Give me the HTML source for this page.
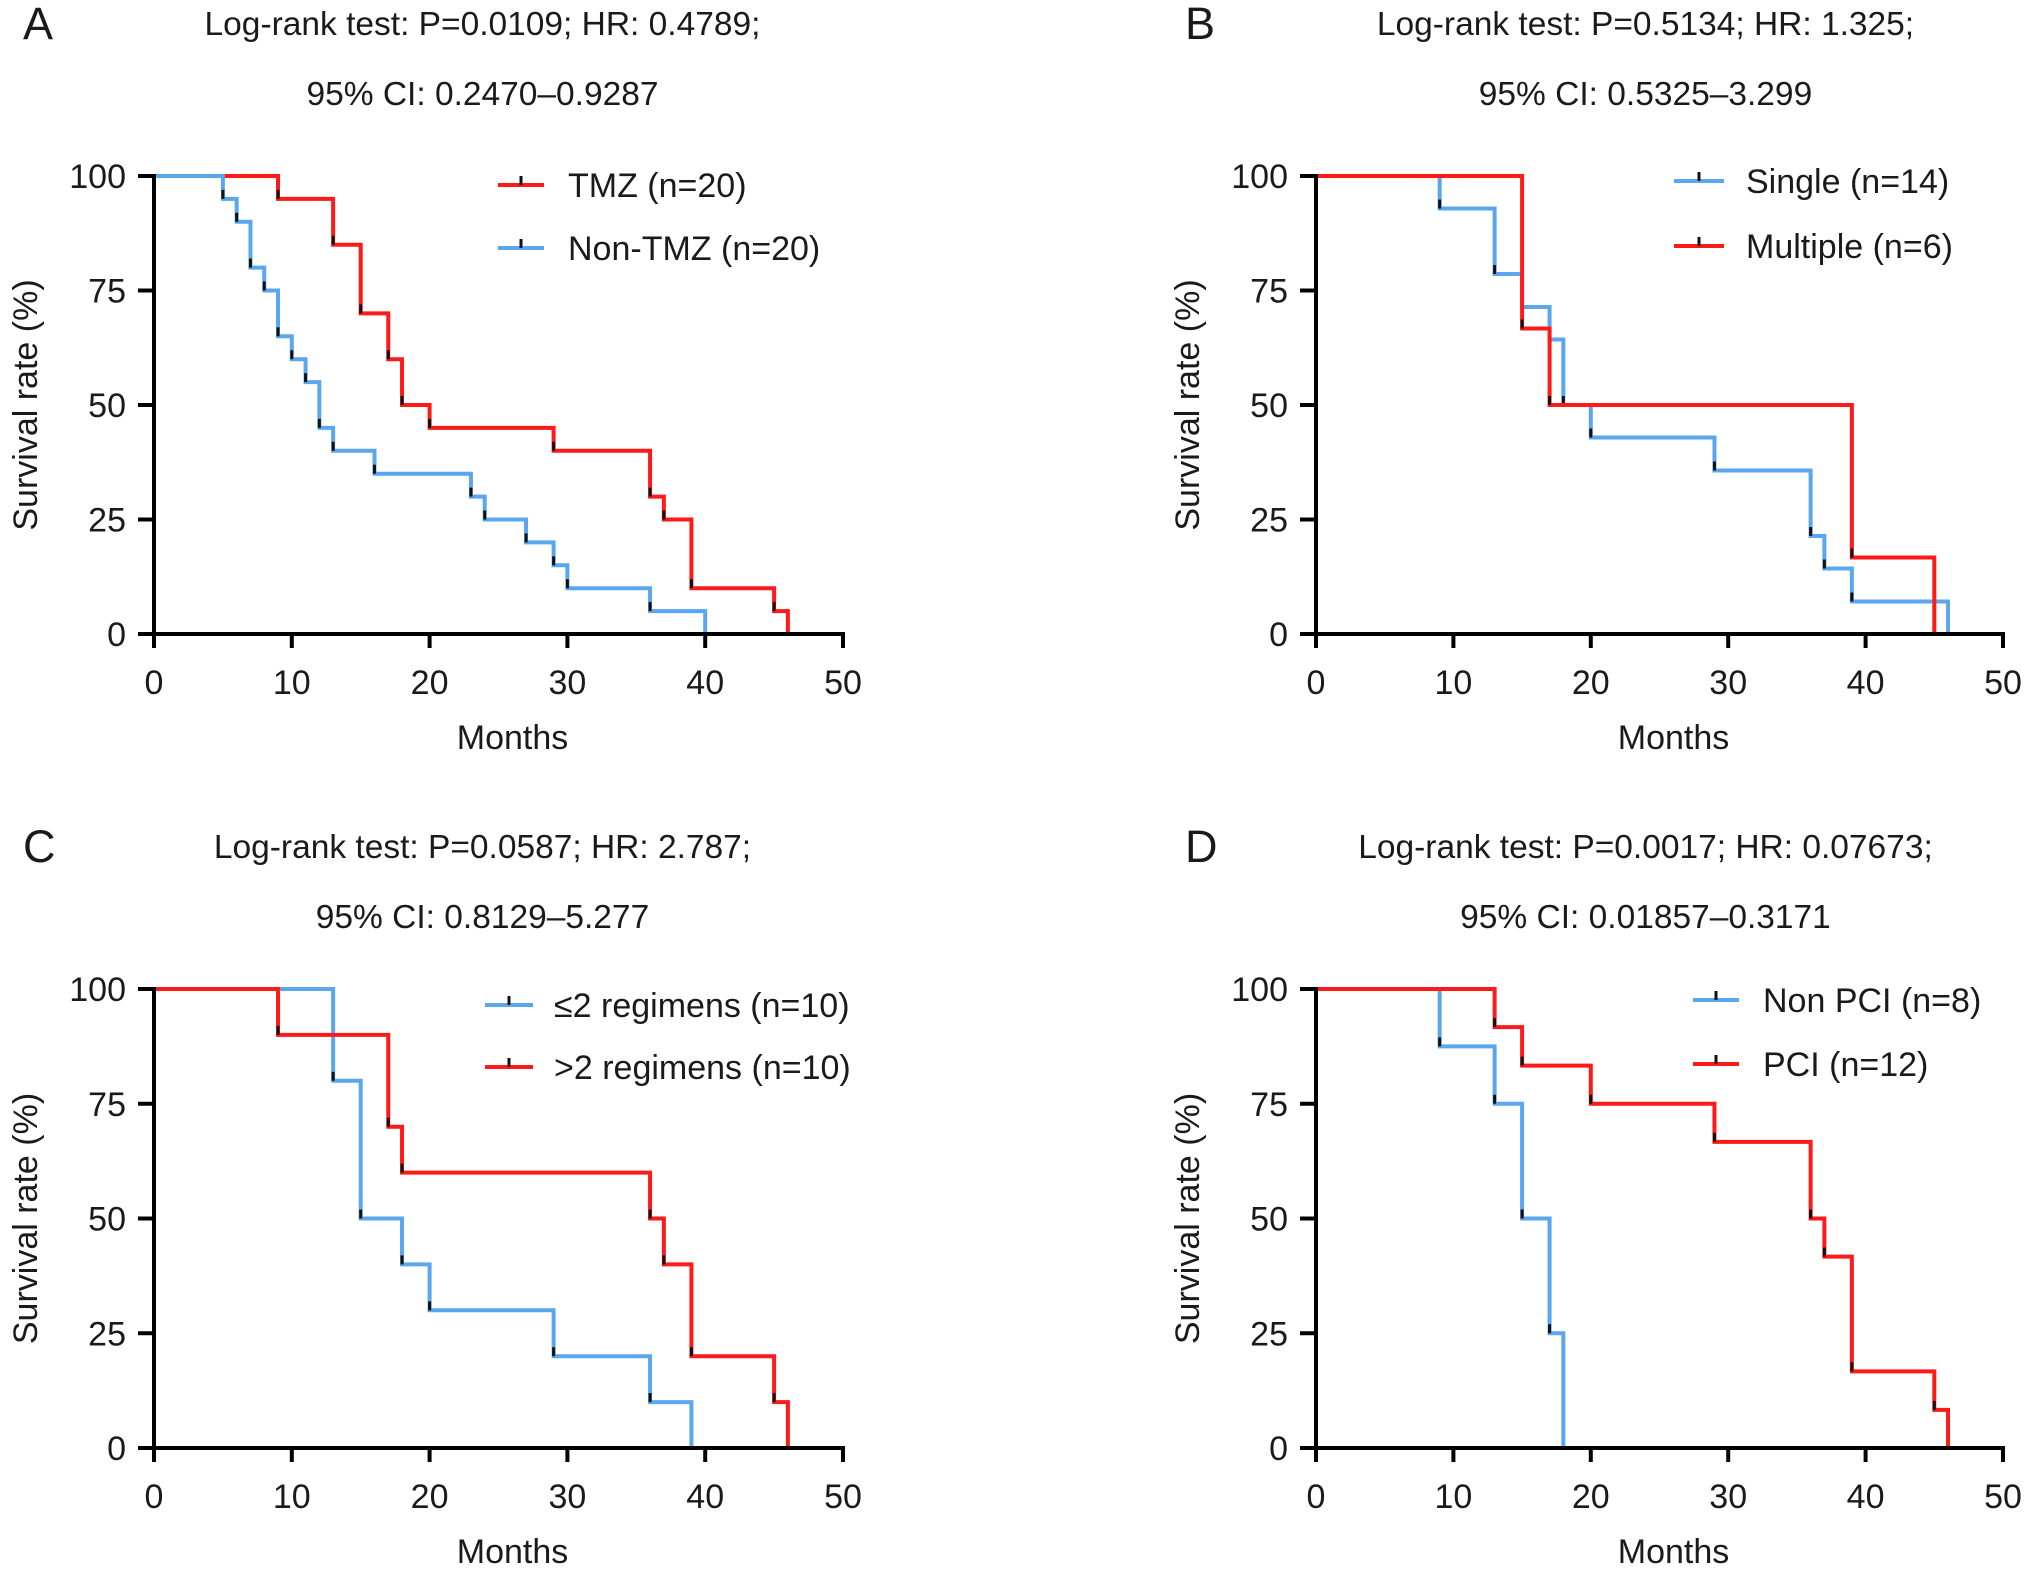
<!DOCTYPE html>
<html><head><meta charset="utf-8"><style>
html,body{margin:0;padding:0;background:#fff;}
svg{display:block;font-family:"Liberation Sans",Arial,sans-serif;}
</style></head><body>
<svg id="fig" width="2032" height="1577" viewBox="0 0 2032 1577" xmlns="http://www.w3.org/2000/svg"></svg>
<script>
// Panel A
const aTmzT=[0,9,13,15,17,18,20,29,36,37,39,45,46];
const aTmzS=[100,95,85,70,60,50,45,40,30,25,10,5,0];
const aNonT=[0,5,6,7,8,9,10,11,12,13,16,23,24,27,29,30,36,40];
const aNonS=[100,95,90,80,75,65,60,55,45,40,35,30,25,20,15,10,5,0];
// Panel B
const bSingleT=[0,9,13,15,17,18,20,29,36,37,39,46];
const bSingleS=[100,92.9,78.6,71.4,64.3,50,42.9,35.7,21.4,14.3,7.1,0];
const bMultT=[0,15,17,39,45];
const bMultS=[100,66.7,50,16.7,0];
// Panel C
const cLowT=[0,13,15,18,20,29,36,39];
const cLowS=[100,80,50,40,30,20,10,0];
const cHighT=[0,9,17,18,36,37,39,45,46];
const cHighS=[100,90,70,60,50,40,20,10,0];
// Panel D
const dNonT=[0,9,13,15,17,18];
const dNonS=[100,87.5,75,50,25,0];
const dPciT=[0,13,15,20,29,36,37,39,45,46];
const dPciS=[100,91.7,83.3,75,66.7,50,41.7,16.7,8.3,0];
const xTicks=[0,10,20,30,40,50];
const yTicks=[0,25,50,75,100];

const RED="#ff1a1a", BLUE="#5aa6ef", TXT="#1a1a1a";
const NS="http://www.w3.org/2000/svg";
const svg=document.getElementById('fig');
function el(tag,attrs,parent){const e=document.createElementNS(NS,tag);for(const k in attrs)e.setAttribute(k,attrs[k]);(parent||svg).appendChild(e);return e;}

const panels=[
 {id:'a',letter:'A',x0:154,x1:843,y0:634,y1:176,t1:'Log-rank test: P=0.0109; HR: 0.4789;',t2:'95% CI: 0.2470–0.9287',ty:23,
  series:[{n:'tmz',T:aTmzT,S:aTmzS,c:RED,lab:'TMZ (n=20)'},{n:'non-tmz',T:aNonT,S:aNonS,c:BLUE,lab:'Non-TMZ (n=20)'}],lx:498,lx2:544,tx:568,ly:[185,248]},
 {id:'b',letter:'B',x0:1316,x1:2003,y0:634,y1:176,t1:'Log-rank test: P=0.5134; HR: 1.325;',t2:'95% CI: 0.5325–3.299',ty:23,
  series:[{n:'single',T:bSingleT,S:bSingleS,c:BLUE,lab:'Single (n=14)'},{n:'multiple',T:bMultT,S:bMultS,c:RED,lab:'Multiple (n=6)'}],lx:1674,lx2:1724,tx:1746,ly:[181,246]},
 {id:'c',letter:'C',x0:154,x1:843,y0:1448,y1:989,t1:'Log-rank test: P=0.0587; HR: 2.787;',t2:'95% CI: 0.8129–5.277',ty:846,
  series:[{n:'le2-regimens',T:cLowT,S:cLowS,c:BLUE,lab:'≤2 regimens (n=10)'},{n:'gt2-regimens',T:cHighT,S:cHighS,c:RED,lab:'>2 regimens (n=10)'}],lx:485,lx2:533,tx:554,ly:[1005,1067]},
 {id:'d',letter:'D',x0:1316,x1:2003,y0:1448,y1:989,t1:'Log-rank test: P=0.0017; HR: 0.07673;',t2:'95% CI: 0.01857–0.3171',ty:846,
  series:[{n:'non-pci',T:dNonT,S:dNonS,c:BLUE,lab:'Non PCI (n=8)'},{n:'pci',T:dPciT,S:dPciS,c:RED,lab:'PCI (n=12)'}],lx:1693,lx2:1739,tx:1763,ly:[1000,1064]}
];

panels.forEach(p=>{
  const g=el('g',{});
  
  
  const xs=v=>p.x0+(p.x1-p.x0)*v/50;
  const ys=v=>p.y0+(p.y1-p.y0)*v/100;
  const cx=(p.x0+p.x1)/2+(p.id==='a'||p.id==='c'?-16:-14);
  const L=el('text',{x:p.x0-131,y:p.ty+16,'font-size':45,fill:TXT},g);L.textContent=p.letter;
  
  const T1=el('text',{x:cx,y:p.ty+12,'font-size':33.5,'text-anchor':'middle',fill:TXT},g);T1.textContent=p.t1;
  
  const T2=el('text',{x:cx,y:p.ty+82,'font-size':33.5,'text-anchor':'middle',fill:TXT},g);T2.textContent=p.t2;
  
  p.series.forEach((s,si)=>{
    let d='M'+xs(s.T[0])+' '+ys(s.S[0]);
    for(let i=1;i<s.T.length;i++){d+=' H'+xs(s.T[i])+' V'+ys(s.S[i]);}
    const path=el('path',{d:d,fill:'none',stroke:s.c,'stroke-width':4,'stroke-linejoin':'miter'},g);
    
    for(let i=1;i<s.T.length-1;i++){
      const tk=el('line',{x1:xs(s.T[i]),x2:xs(s.T[i]),y1:ys(s.S[i]),y2:ys(s.S[i])-9,stroke:'#111','stroke-width':3},g);
      
    }
    const ly=p.ly[si];
    const ll=el('line',{x1:p.lx,x2:p.lx2,y1:ly,y2:ly,stroke:s.c,'stroke-width':4},g);
    
    const lm=el('line',{x1:(p.lx+p.lx2)/2,x2:(p.lx+p.lx2)/2,y1:ly,y2:ly-9,stroke:'#111','stroke-width':3},g);
    
    const lt=el('text',{x:p.tx,y:ly+12,'font-size':34,fill:TXT},g);lt.textContent=s.lab;
    
  });
  const ax=el('path',{d:`M${p.x0} ${p.y1-2} V${p.y0} H${p.x1+2}`,fill:'none',stroke:'#000','stroke-width':4},g);
  
  xTicks.forEach(v=>{
    const t=el('line',{x1:xs(v),x2:xs(v),y1:p.y0,y2:p.y0+14,stroke:'#000','stroke-width':4},g);
    
    const tl=el('text',{x:xs(v),y:p.y0+60,'font-size':34,'text-anchor':'middle',fill:TXT},g);tl.textContent=v;
    
  });
  yTicks.forEach(v=>{
    const t=el('line',{x1:p.x0-16,x2:p.x0,y1:ys(v),y2:ys(v),stroke:'#000','stroke-width':4},g);
    
    const tl=el('text',{x:p.x0-28,y:ys(v)+12,'font-size':34,'text-anchor':'end',fill:TXT},g);tl.textContent=v;
    
  });
  const xt=el('text',{x:(p.x0+p.x1)/2+14,y:p.y0+115,'font-size':34,'text-anchor':'middle',fill:TXT},g);xt.textContent='Months';
  
  const ycy=(p.y0+p.y1)/2;const ycx=p.x0-117;
  const yt=el('text',{x:ycx,y:ycy,'font-size':34,'text-anchor':'middle',fill:TXT,transform:`rotate(-90 ${ycx} ${ycy})`},g);yt.textContent='Survival rate (%)';
  
});
</script>
</body></html>
